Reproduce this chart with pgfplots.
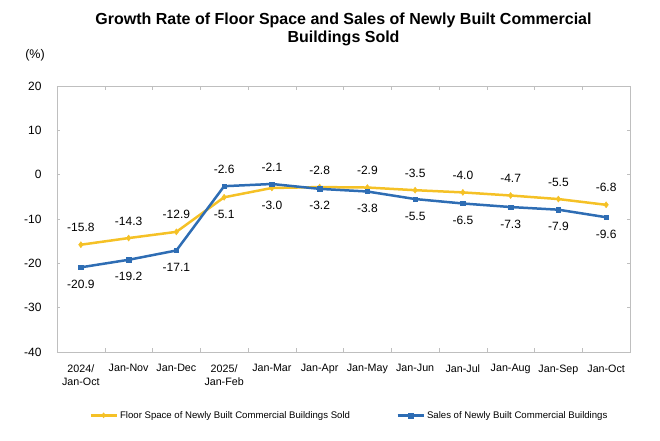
\documentclass[border=0pt]{standalone}
\usepackage{pgfplots}
\pgfplotsset{compat=1.18}
\usepackage{fontspec}
\setmainfont{Liberation Sans}
\definecolor{cyel}{HTML}{F5C126}
\definecolor{cblu}{HTML}{2E6DB4}
\definecolor{cgrid}{HTML}{BFBFBF}
\begin{document}
\begin{tikzpicture}
\path[use as bounding box] (-57pt,-88pt) rectangle (603pt,352pt);
\begin{axis}[
  at={(0,0)}, anchor=south west,
  scale only axis, width=573pt, height=266pt,
  xmin=-0.5, xmax=11.5, ymin=-40, ymax=20,
  ytick={-40,-30,...,20},
  xtick={0,...,11},
  xticklabels={{2024/\\Jan-Oct},Jan-Nov,Jan-Dec,{2025/\\Jan-Feb},Jan-Mar,Jan-Apr,Jan-May,Jan-Jun,Jan-Jul,Jan-Aug,Jan-Sep,Jan-Oct},
  xticklabel style={align=center, font=\fontsize{10.7}{13.5}\selectfont, yshift=-9pt},
  yticklabel style={font=\fontsize{12}{14}\selectfont, xshift=-12pt},
  /pgf/number format/assume math mode=true,
  minor xtick={0.5,1.5,...,10.5},
  major x tick style={draw=none},
  tick align=inside,
  major tick length=3pt, minor tick length=4pt,
  axis line style={cgrid},
  every tick/.style={cgrid},
  every minor tick/.style={cgrid},
  title style={align=center, font=\bfseries\fontsize{16}{18}\selectfont, yshift=31pt},
  title={Growth Rate of Floor Space and Sales of Newly Built Commercial\\Buildings Sold},
  legend style={at={(0.51,-0.238)}, anchor=center, draw=none, font=\fontsize{9.6}{11}\selectfont, legend columns=2, /tikz/every even column/.append style={column sep=44pt}},
  legend image code/.code={\draw[#1, line width=3pt] (0pt,0pt) -- (26pt,0pt); \draw[#1, mark repeat=1, mark size=2.5pt] plot coordinates {(13pt,0pt)};},
  nodes near coords={\pgfmathprintnumber[fixed,fixed zerofill,precision=1]{\pgfplotspointmeta}},
  every node near coord/.append style={font=\fontsize{12}{14}\selectfont, black},
  clip=false,
]
\addplot[cyel, line width=2.5pt, mark=diamond*, mark size=3pt, mark options={line width=0.5pt}, nodes near coords={}] coordinates {
(0,-15.8)(1,-14.3)(2,-12.9)(3,-5.1)(4,-3.0)(5,-2.8)(6,-2.9)(7,-3.5)(8,-4.0)(9,-4.7)(10,-5.5)(11,-6.8)};
\addlegendentry{Floor Space of Newly Built Commercial Buildings Sold}
\addplot[cblu, line width=2.5pt, mark=square*, mark size=2.2pt, mark options={line width=0.5pt}, nodes near coords={}] coordinates {
(0,-20.9)(1,-19.2)(2,-17.1)(3,-2.6)(4,-2.1)(5,-3.2)(6,-3.8)(7,-5.5)(8,-6.5)(9,-7.3)(10,-7.9)(11,-9.6)};
\addlegendentry{Sales of Newly Built Commercial Buildings}
% labels above
\addplot[draw=none, forget plot, point meta=y, every node near coord/.append style={anchor=center, yshift=17pt}] coordinates {
(0,-15.8)(1,-14.3)(2,-12.9)(3,-2.6)(4,-2.1)(5,-2.8)(6,-2.9)(7,-3.5)(8,-4.0)(9,-4.7)(10,-5.5)(11,-6.8)};
% labels below
\addplot[draw=none, forget plot, point meta=y, every node near coord/.append style={anchor=center, yshift=-17pt}] coordinates {
(0,-20.9)(1,-19.2)(2,-17.1)(3,-5.1)(4,-3.0)(5,-3.2)(6,-3.8)(7,-5.5)(8,-6.5)(9,-7.3)(10,-7.9)(11,-9.6)};
\node[font=\fontsize{12.5}{14}\selectfont] at (rel axis cs:0,1) [xshift=-22pt, yshift=31pt] {(\%)};
\end{axis}
\end{tikzpicture}
\end{document}
